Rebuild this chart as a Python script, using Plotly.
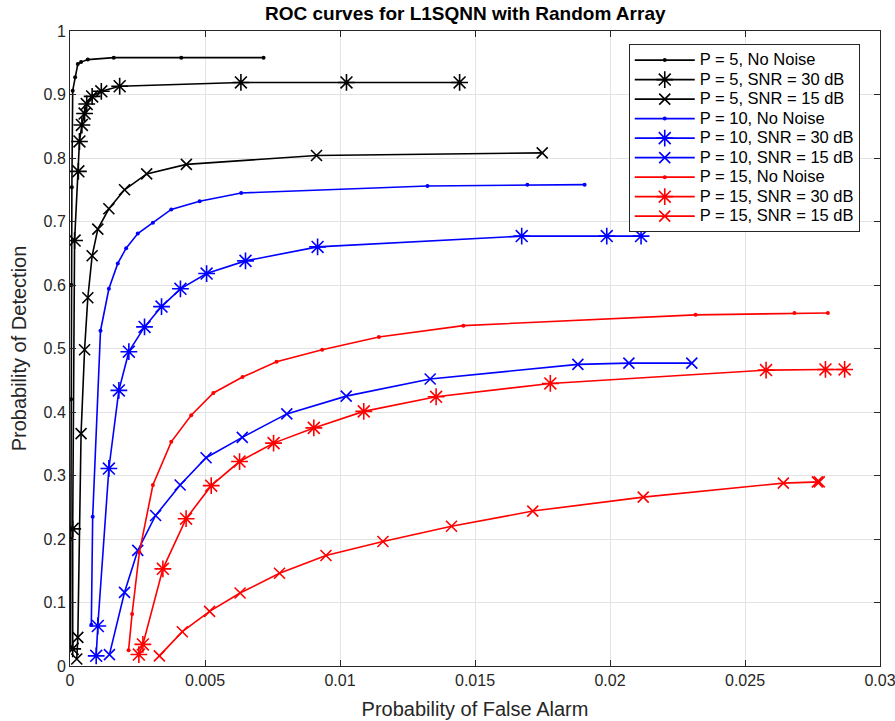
import plotly.graph_objects as go

# ---------------- data ----------------
p5_nn_x = [0.00002, 0.00003, 0.00004, 0.00005, 0.00007, 0.0001, 0.00019, 0.00029, 0.00041, 0.00066, 0.00162, 0.00412, 0.00717]
p5_nn_y = [0.03, 0.2, 0.42, 0.6, 0.754, 0.906, 0.927, 0.948, 0.951, 0.955, 0.958, 0.958, 0.958]

p5_30_x = [0.0001, 0.0001, 0.00017, 0.00031, 0.00035, 0.00044, 0.00054, 0.00062, 0.00082, 0.00116, 0.00184, 0.00633, 0.01024, 0.01443]
p5_30_y = [0.027, 0.216, 0.670, 0.779, 0.826, 0.852, 0.870, 0.885, 0.897, 0.905, 0.913, 0.919, 0.919, 0.919]

p5_15_x = [0.00025, 0.00029, 0.00041, 0.00054, 0.00066, 0.00082, 0.00103, 0.00144, 0.00202, 0.00284, 0.00431, 0.00913, 0.01749]
p5_15_y = [0.011, 0.045, 0.366, 0.498, 0.580, 0.646, 0.688, 0.720, 0.750, 0.775, 0.790, 0.804, 0.808]

p10_nn_x = [0.00079, 0.00084, 0.00113, 0.00144, 0.00177, 0.00208, 0.00251, 0.00307, 0.00375, 0.0048, 0.00634, 0.01324, 0.01694, 0.01906]
p10_nn_y = [0.065, 0.235, 0.528, 0.594, 0.634, 0.658, 0.681, 0.698, 0.719, 0.732, 0.745, 0.756, 0.758, 0.758]

p10_30_x = [0.00097, 0.00103, 0.00144, 0.00181, 0.00218, 0.00276, 0.00339, 0.00409, 0.00506, 0.0065, 0.00917, 0.01673, 0.01988, 0.02115]
p10_30_y = [0.016, 0.063, 0.311, 0.434, 0.495, 0.534, 0.566, 0.594, 0.618, 0.638, 0.660, 0.677, 0.677, 0.677]

p10_15_x = [0.00146, 0.00202, 0.00251, 0.00317, 0.00408, 0.00504, 0.00638, 0.00803, 0.01023, 0.01334, 0.01881, 0.0207, 0.02303]
p10_15_y = [0.018, 0.116, 0.182, 0.237, 0.285, 0.328, 0.360, 0.397, 0.425, 0.452, 0.475, 0.477, 0.477]

p15_nn_x = [0.00217, 0.0023, 0.00257, 0.00307, 0.00375, 0.00449, 0.00531, 0.00639, 0.00765, 0.00934, 0.01144, 0.01457, 0.02317, 0.02683, 0.02807]
p15_nn_y = [0.025, 0.082, 0.179, 0.285, 0.353, 0.395, 0.430, 0.455, 0.479, 0.498, 0.518, 0.536, 0.553, 0.556, 0.556]

p15_30_x = [0.00255, 0.0027, 0.00344, 0.0043, 0.00523, 0.00628, 0.00754, 0.00903, 0.01088, 0.01356, 0.01779, 0.02578, 0.02798, 0.02869]
p15_30_y = [0.018, 0.034, 0.153, 0.232, 0.284, 0.322, 0.351, 0.375, 0.401, 0.424, 0.445, 0.466, 0.467, 0.467]

p15_15_x = [0.00331, 0.00416, 0.00517, 0.0063, 0.00776, 0.00948, 0.01159, 0.01413, 0.01714, 0.02123, 0.02642, 0.02768, 0.02775]
p15_15_y = [0.016, 0.054, 0.086, 0.115, 0.146, 0.174, 0.196, 0.220, 0.244, 0.266, 0.288, 0.290, 0.290]

x_ticks = [0, 0.005, 0.01, 0.015, 0.02, 0.025, 0.03]
x_tick_labels = ["0", "0.005", "0.01", "0.015", "0.02", "0.025", "0.03"]
y_ticks = [0, 0.1, 0.2, 0.3, 0.4, 0.5, 0.6, 0.7, 0.8, 0.9, 1]
y_tick_labels = ["0", "0.1", "0.2", "0.3", "0.4", "0.5", "0.6", "0.7", "0.8", "0.9", "1"]

series = [
    ("P = 5, No Noise", p5_nn_x, p5_nn_y, "#000000", "dot"),
    ("P = 5, SNR = 30 dB", p5_30_x, p5_30_y, "#000000", "star"),
    ("P = 5, SNR = 15 dB", p5_15_x, p5_15_y, "#000000", "x"),
    ("P = 10, No Noise", p10_nn_x, p10_nn_y, "#0000ff", "dot"),
    ("P = 10, SNR = 30 dB", p10_30_x, p10_30_y, "#0000ff", "star"),
    ("P = 10, SNR = 15 dB", p10_15_x, p10_15_y, "#0000ff", "x"),
    ("P = 15, No Noise", p15_nn_x, p15_nn_y, "#ff0000", "dot"),
    ("P = 15, SNR = 30 dB", p15_30_x, p15_30_y, "#ff0000", "star"),
    ("P = 15, SNR = 15 dB", p15_15_x, p15_15_y, "#ff0000", "x"),
]

FONT = "Liberation Sans, Arial, sans-serif"
TXT = "#262626"

fig = go.Figure()
for name, xs, ys, col, mk in series:
    if mk == "dot":
        marker = dict(symbol="circle", size=4, color=col, line=dict(width=0))
    elif mk == "star":
        marker = dict(symbol="asterisk-open", size=14, color=col, line=dict(width=1.6, color=col))
    else:
        marker = dict(symbol="x-thin-open", size=11, color=col, line=dict(width=1.6, color=col))
    fig.add_trace(go.Scatter(
        x=xs, y=ys, name='<span style="font-size:16.5px">' + name + '</span>',
        mode="lines+markers",
        line=dict(color=col, width=1.6), marker=marker,
    ))

axis_common = dict(
    showline=True, linecolor=TXT, linewidth=1, mirror="ticks",
    ticks="inside", ticklen=6, tickcolor=TXT, tickwidth=1,
    showgrid=True, gridcolor="#e3e3e3", gridwidth=1,
    zeroline=False, tickfont=dict(family=FONT, size=16, color=TXT),
    ticklabeloverflow="allow",
)

fig.update_layout(
    width=895, height=721,
    margin=dict(l=70, r=15, t=31, b=55),
    paper_bgcolor="white", plot_bgcolor="white",
    font=dict(family=FONT, color=TXT),
    title=dict(text="<b>ROC curves for L1SQNN with Random Array</b>",
               x=0.488, xref="paper", xanchor="center",
               y=1 - 13 / 721, yref="container", yanchor="middle",
               font=dict(family=FONT, size=19, color="#000000")),
    xaxis=dict(axis_common, range=[0, 0.03], tickvals=x_ticks, ticktext=x_tick_labels,
               automargin=False,
               title=dict(text="Probability of False Alarm", font=dict(family=FONT, size=20, color=TXT), standoff=13)),
    yaxis=dict(axis_common, range=[0, 1], tickvals=y_ticks, ticktext=y_tick_labels,
               automargin=False,
               title=dict(text="Probability of Detection", font=dict(family=FONT, size=20, color=TXT), standoff=11)),
    legend=dict(x=0.975, y=0.979, xanchor="right", yanchor="top",
                bgcolor="white", bordercolor=TXT, borderwidth=1,
                font=dict(family=FONT, size=12.7, color="#000000"),
                itemwidth=60, tracegroupgap=0),
    showlegend=True,
)

fig.write_html("out.html", config={"displayModeBar": False},
               post_script="document.body.style.margin='0px';")
